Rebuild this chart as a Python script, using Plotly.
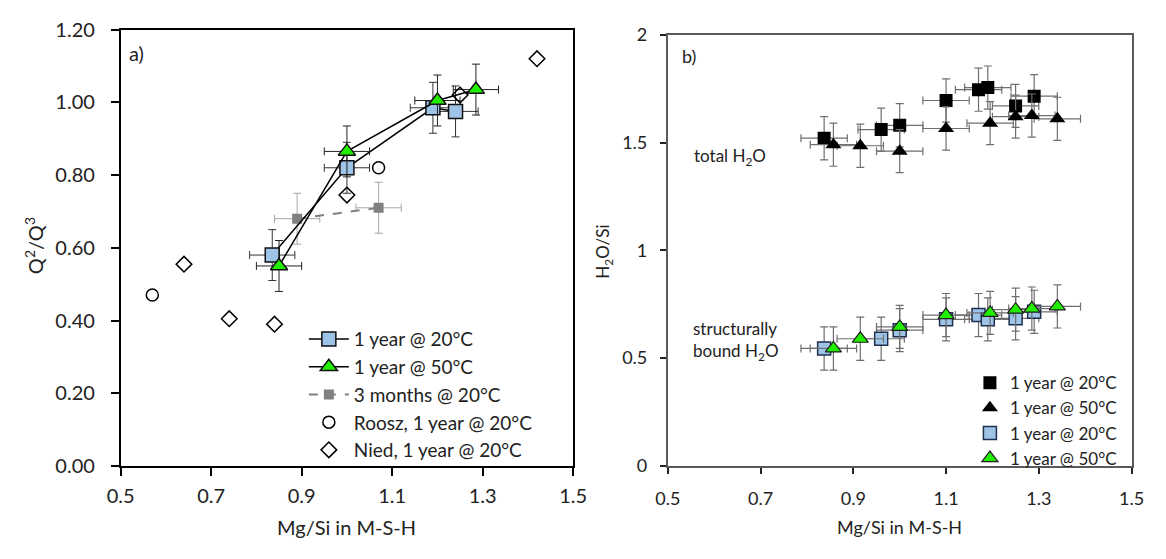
import plotly.graph_objects as go

# ---------------- Panel a) data ----------------
a_20c_x = [0.835, 1.00, 1.19, 1.24]
a_20c_y = [0.58, 0.82, 0.985, 0.975]
a_50c_x = [0.85, 1.00, 1.20, 1.285]
a_50c_y = [0.55, 0.865, 1.005, 1.035]
a_3m_x = [0.89, 1.07]
a_3m_y = [0.68, 0.71]
roosz_x = [0.57, 1.07]
roosz_y = [0.47, 0.82]
nied_x = [0.64, 0.74, 0.84, 1.00, 1.25, 1.42]
nied_y = [0.555, 0.405, 0.39, 0.745, 1.02, 1.12]
a_err_x = 0.05
a_err_y = 0.07

# ---------------- Panel b) data ----------------
b_20c_x = [0.837, 0.96, 1.00, 1.10, 1.17, 1.19, 1.25, 1.29]
b_20c_total = [1.52, 1.56, 1.58, 1.695, 1.745, 1.755, 1.67, 1.715]
b_20c_bound = [0.545, 0.59, 0.63, 0.68, 0.70, 0.68, 0.685, 0.715]
b_50c_x = [0.857, 0.915, 1.00, 1.10, 1.195, 1.25, 1.285, 1.34]
b_50c_total = [1.49, 1.485, 1.46, 1.565, 1.59, 1.62, 1.625, 1.61]
b_50c_bound = [0.545, 0.59, 0.645, 0.70, 0.71, 0.725, 0.73, 0.74]
b_err_x = 0.05
b_err_y = 0.10

x_ticks = [0.5, 0.7, 0.9, 1.1, 1.3, 1.5]
a_y_ticks = [0.0, 0.2, 0.4, 0.6, 0.8, 1.0, 1.2]
b_y_ticks = [0, 0.5, 1, 1.5, 2]
b_y_ticktext = ["0", "0.5", "1", "1.5", "2"]

FONT = "Lato"
BLUE = "#9dc3e6"
GREEN = "#22ee00"
GRAY = "#808080"


def ex(v, color, th=1.0):
    return dict(type="constant", value=v, color=color, thickness=th, width=4)


fig = go.Figure()

# Panel a traces (draw order), legend order via legendrank
fig.add_trace(go.Scatter(
    x=a_3m_x, y=a_3m_y, mode="lines+markers", name="3 months @ 20°C",
    line=dict(color=GRAY, width=2, dash="dash"),
    marker=dict(symbol="square", size=10, color=GRAY),
    error_x=ex(a_err_x, "#a6a6a6"), error_y=ex(a_err_y, "#a6a6a6"),
    legend="legend", legendrank=3, legendgroup="g3"))
fig.add_trace(go.Scatter(
    x=a_20c_x, y=a_20c_y, mode="lines+markers", name="1 year @ 20°C",
    line=dict(color="black", width=1.5),
    marker=dict(symbol="square", size=14, color=BLUE, line=dict(color="#111111", width=1.5)),
    error_x=ex(a_err_x, "#333333"), error_y=ex(a_err_y, "#333333"),
    legend="legend", legendrank=1, legendgroup="g1"))
fig.add_trace(go.Scatter(
    x=a_50c_x, y=a_50c_y, mode="lines+markers", name="1 year @ 50°C",
    line=dict(color="black", width=1.5),
    marker=dict(symbol="triangle-up", size=15, color=GREEN, line=dict(color="#111111", width=1.5)),
    error_x=ex(a_err_x, "#222222"), error_y=ex(a_err_y, "#222222"),
    legend="legend", legendrank=2, legendgroup="g2"))
fig.add_trace(go.Scatter(
    x=roosz_x, y=roosz_y, mode="markers", name="Roosz, 1 year @ 20°C",
    marker=dict(symbol="circle-open", size=12, color="black", line=dict(width=1.5)),
    legend="legend", legendrank=4, legendgroup="g4"))
fig.add_trace(go.Scatter(
    x=nied_x, y=nied_y, mode="markers", name="Nied, 1 year @ 20°C",
    marker=dict(symbol="diamond-open", size=12, color="black", line=dict(width=1.5)),
    legend="legend", legendrank=5, legendgroup="g5"))

# Panel b traces
EB = "#6f6f6f"
fig.add_trace(go.Scatter(
    x=b_20c_x, y=b_20c_total, mode="markers", name="1 year @ 20°C",
    marker=dict(symbol="square", size=13, color="black"),
    error_x=ex(b_err_x, EB, 1.2), error_y=ex(b_err_y, EB, 1.2),
    xaxis="x2", yaxis="y2", legend="legend2", legendrank=1))
fig.add_trace(go.Scatter(
    x=b_50c_x, y=b_50c_total, mode="markers", name="1 year @ 50°C",
    marker=dict(symbol="triangle-up", size=14, color="black"),
    error_x=ex(b_err_x, EB, 1.2), error_y=ex(b_err_y, EB, 1.2),
    xaxis="x2", yaxis="y2", legend="legend2", legendrank=2))
fig.add_trace(go.Scatter(
    x=b_20c_x, y=b_20c_bound, mode="markers", name="1 year @ 20°C",
    marker=dict(symbol="square", size=13, color=BLUE, line=dict(color="#1f2f4f", width=1.5)),
    error_x=ex(b_err_x, EB, 1.2), error_y=ex(b_err_y, EB, 1.2),
    xaxis="x2", yaxis="y2", legend="legend2", legendrank=3))
fig.add_trace(go.Scatter(
    x=b_50c_x, y=b_50c_bound, mode="markers", name="1 year @ 50°C",
    marker=dict(symbol="triangle-up", size=14, color=GREEN, line=dict(color="#1f1f1f", width=1.2)),
    error_x=ex(b_err_x, EB, 1.2), error_y=ex(b_err_y, EB, 1.2),
    xaxis="x2", yaxis="y2", legend="legend2", legendrank=4))

XD_A = [0.0937, 0.4914]
XD_B = [0.5746, 0.9820]
YD_A = [0.1533, 0.969]
YD_B = [0.1533, 0.9594]

base_a = dict(showgrid=False, zeroline=False, showline=True, linecolor="black", linewidth=1.5,
              mirror=True, ticks="outside", ticklen=8, tickwidth=1.5, tickcolor="black",
              tickfont=dict(family=FONT, size=20, color="#222222"))
base_b = dict(showgrid=False, zeroline=False, showline=True, linecolor="#5a5a5a", linewidth=2,
              mirror=True, ticks="outside", ticklen=6, tickwidth=2, tickcolor="#222222",
              tickfont=dict(family=FONT, size=18, color="#222222"))

fig.update_layout(
    width=1166, height=559,
    margin=dict(l=0, r=0, t=0, b=0),
    paper_bgcolor="white", plot_bgcolor="white",
    font=dict(family=FONT, color="#222222"),
    xaxis=dict(domain=XD_A, anchor="y", range=[0.5, 1.5], tickvals=x_ticks,
               ticktext=[f"{v:.1f}" for v in x_ticks], ticklabelstandoff=3, **base_a),
    yaxis=dict(domain=YD_A, anchor="x", range=[0, 1.2], tickvals=a_y_ticks,
               ticktext=[f"{v:.2f}" for v in a_y_ticks], ticklabelstandoff=12, **base_a),
    xaxis2=dict(domain=XD_B, anchor="y2", range=[0.5, 1.5], tickvals=x_ticks,
                ticktext=[f"{v:.1f}" for v in x_ticks], ticklabelstandoff=9, **base_b),
    yaxis2=dict(domain=YD_B, anchor="x2", range=[0, 2], tickvals=b_y_ticks,
                ticktext=b_y_ticktext, ticklabelstandoff=9, **base_b),
    # overlay axes to give "cross" tick marks
    xaxis3=dict(overlaying="x", anchor="y", range=[0.5, 1.5], tickvals=x_ticks,
                showticklabels=False, ticks="inside", ticklen=8, tickwidth=1.5,
                tickcolor="black", showgrid=False, zeroline=False, showline=False),
    yaxis3=dict(overlaying="y", anchor="x", range=[0, 1.2], tickvals=a_y_ticks,
                showticklabels=False, ticks="inside", ticklen=8, tickwidth=1.5,
                tickcolor="black", showgrid=False, zeroline=False, showline=False),
    xaxis4=dict(overlaying="x2", anchor="y2", range=[0.5, 1.5], tickvals=x_ticks,
                showticklabels=False, ticks="inside", ticklen=6, tickwidth=2,
                tickcolor="#222222", showgrid=False, zeroline=False, showline=False),
    yaxis4=dict(overlaying="y2", anchor="x2", range=[0, 2], tickvals=b_y_ticks,
                showticklabels=False, ticks="inside", ticklen=6, tickwidth=2,
                tickcolor="#222222", showgrid=False, zeroline=False, showline=False),
    legend=dict(x=0.2547, y=0.4258, xanchor="left", yanchor="top",
                bgcolor="rgba(0,0,0,0)", font=dict(family=FONT, size=19, color="#222222"),
                tracegroupgap=0, itemwidth=40),
    legend2=dict(x=0.840, y=0.3417, xanchor="left", yanchor="top",
                 bgcolor="rgba(0,0,0,0)", font=dict(family=FONT, size=17, color="#222222"),
                 tracegroupgap=0, itemwidth=30),
    annotations=[
        dict(text="a)", xref="paper", yref="paper", x=0.0995, y=0.9254, xanchor="left",
             yanchor="middle", showarrow=False, font=dict(size=20)),
        dict(text="b)", xref="paper", yref="paper", x=0.5854, y=0.9195, xanchor="left",
             yanchor="middle", showarrow=False, font=dict(size=18)),
        dict(text="total H<sub>2</sub>O", xref="paper", yref="paper", x=0.5959, y=0.7317,
             xanchor="left", yanchor="middle", showarrow=False, font=dict(size=17)),
        dict(text="structurally<br>bound H<sub>2</sub>O", xref="paper", yref="paper",
             x=0.5946, y=0.3864, xanchor="left", yanchor="middle", align="left",
             showarrow=False, font=dict(size=17)),
        dict(text="Q<sup>2</sup>/Q<sup>3</sup>", xref="paper", yref="paper", x=0.0172,
             y=0.5653, xanchor="center", yanchor="middle", textangle=-90,
             showarrow=False, font=dict(size=20)),
        dict(text="H<sub>2</sub>O/Si", xref="paper", yref="paper", x=0.5189, y=0.5528,
             xanchor="center", yanchor="middle", textangle=-90,
             showarrow=False, font=dict(size=17)),
        dict(text="Mg/Si in M-S-H", xref="paper", yref="paper", x=0.2925, y=0.0394,
             xanchor="center", yanchor="middle", showarrow=False, font=dict(size=20)),
        dict(text="Mg/Si in M-S-H", xref="paper", yref="paper", x=0.7783, y=0.0394,
             xanchor="center", yanchor="middle", showarrow=False, font=dict(size=18)),
    ],
)

fig.write_html("out.html")
